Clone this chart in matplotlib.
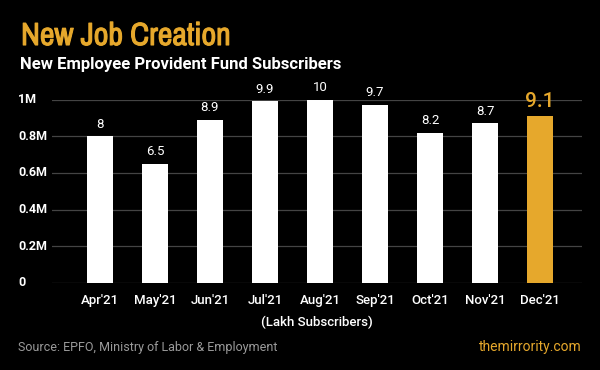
import numpy as np
import matplotlib
matplotlib.use('Agg')
import matplotlib.pyplot as plt
import matplotlib.transforms as mtrans
import matplotlib.patheffects as pe
from matplotlib import font_manager

months = ["Apr'21", "May'21", "Jun'21", "Jul'21", "Aug'21", "Sep'21", "Oct'21", "Nov'21", "Dec'21"]
lakh = [8, 6.5, 8.9, 9.9, 10, 9.7, 8.2, 8.7, 9.1]
y_ticks = [0, 0.2, 0.4, 0.6, 0.8, 1.0]
y_labels = ['0', '0.2M', '0.4M', '0.6M', '0.8M', '1M']

gold = '#E6A82C'
plt.rcParams['font.family'] = ['Roboto', 'DejaVu Sans']

# look for a condensed face for the title
names = sorted({f.name for f in font_manager.fontManager.ttflist})
narrow = [n for n in names if 'Condensed' in n or 'Narrow' in n]
title_fam = [narrow[0], 'Roboto'] if narrow else ['Roboto']

fig = plt.figure(figsize=(6, 3.7), dpi=100, facecolor='black')
ax = fig.add_axes([52/600, 1 - 283/370, 530/600, (283 - 99.5)/370])
ax.set_facecolor('black')

x = np.arange(len(months))
vals = np.array(lakh) / 10  # millions
colors = ['white'] * (len(months) - 1) + [gold]
ax.bar(x, vals, width=0.47, color=colors, zorder=3)

ax.set_xlim(-0.87, 8.76)
ax.set_ylim(0, 1.0)
ax.set_yticks(y_ticks)
ax.set_yticklabels([])
ax.grid(axis='y', color='#444444', linewidth=0.9, zorder=0)
ax.tick_params(axis='both', length=0)
for s in ax.spines.values():
    s.set_visible(False)
ax.set_xticks(x)
ax.set_xticklabels(months, color='white', fontsize=9.5, fontweight='medium')
ax.tick_params(axis='x', pad=8)

ytr = mtrans.blended_transform_factory(fig.transFigure, ax.transData)
for t, lab in zip(y_ticks, y_labels):
    ax.text(18/600, t, lab, transform=ytr, color='white',
            fontsize=9, fontweight='bold', ha='left', va='center')

for i, (v, l) in enumerate(zip(vals, lakh)):
    lab = f'{l:g}'
    if i == len(vals) - 1:
        ax.text(i, v + 0.025, lab, color=gold, fontsize=15, fontweight='medium',
                ha='center', va='bottom')
    else:
        ax.text(i, v + 0.03, lab, color='white', fontsize=9.5,
                ha='center', va='bottom')

ax.set_xlabel('(Lakh Subscribers)', color='white', fontsize=9.5,
              fontweight='medium', labelpad=6)

fig.text(21/600, 1 - 45/370, 'New Job Creation', color=gold, fontsize=23,
         fontweight='bold', family=title_fam, ha='left', va='baseline',
         path_effects=[pe.withStroke(linewidth=0.8, foreground=gold)])
fig.text(20/600, 1 - 65/370, 'New Employee Provident Fund Subscribers', color='white',
         fontsize=12, fontweight='bold', ha='left', va='center')
fig.text(18/600, 1 - 347/370, 'Source: EPFO, Ministry of Labor & Employment', color='#9a9a9a',
         fontsize=9, ha='left', va='center')
fig.text(582/600, 1 - 347/370, 'themirrority.com', color=gold,
         fontsize=10, ha='right', va='center')

fig.savefig('out.png', dpi=100, facecolor='black')
